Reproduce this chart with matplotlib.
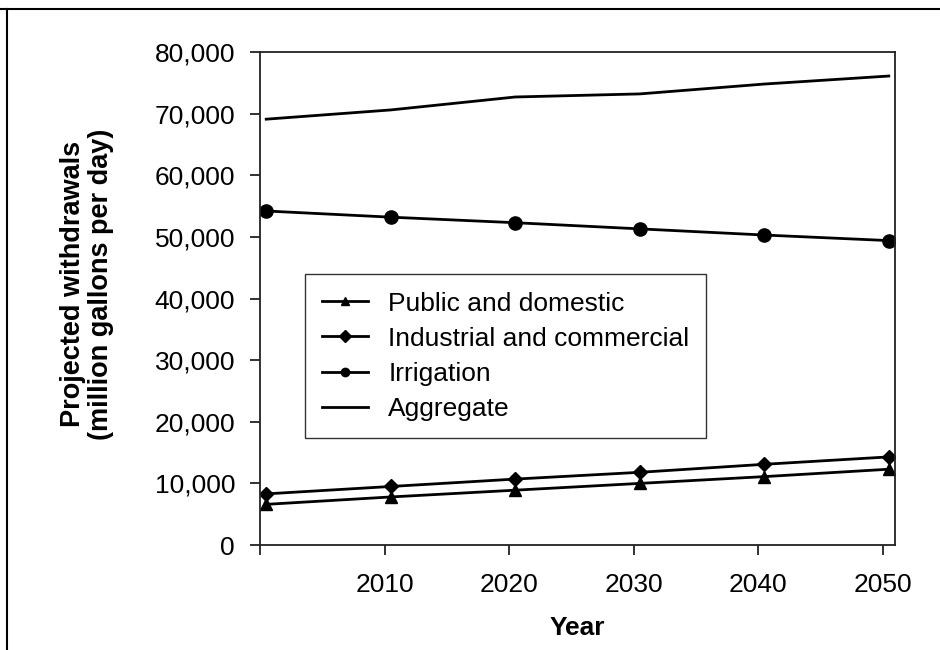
import numpy as np
import matplotlib
matplotlib.use("Agg")
import matplotlib.pyplot as plt
from matplotlib.lines import Line2D
from matplotlib.ticker import FuncFormatter

plt.rcParams['font.family'] = ['Liberation Sans', 'DejaVu Sans']

# Projected withdrawals, million gallons per day
years = [2000, 2010, 2020, 2030, 2040, 2050]
public_domestic = [6600, 7800, 8900, 10000, 11100, 12300]
industrial_commercial = [8300, 9500, 10700, 11800, 13100, 14300]
irrigation = [54200, 53200, 52300, 51300, 50300, 49400]
aggregate = [69100, 70600, 72700, 73200, 74800, 76100]

tick_years = [2000, 2010, 2020, 2030, 2040, 2050]
tick_labels = ['', '2010', '2020', '2030', '2040', '2050']

fig = plt.figure(figsize=(9.4, 6.5), dpi=100)
ax = fig.add_axes([0.2766, 0.1615, 0.6755, 0.7585])

lw = 2.0
ax.plot(years, public_domestic, color='black', lw=lw, marker='^', ms=9,
        label='Public and domestic')
ax.plot(years, industrial_commercial, color='black', lw=lw, marker='D', ms=7,
        label='Industrial and commercial')
ax.plot(years, irrigation, color='black', lw=lw, marker='o', ms=9.5,
        label='Irrigation')
ax.plot(years, aggregate, color='black', lw=lw, label='Aggregate')

# category-style axis: ticks sit on the left edge of each year
ax.set_xlim(1999.5, 2050.5)
ax.set_xticks([y - 0.5 for y in tick_years])
ax.set_xticklabels(tick_labels)
ax.set_ylim(0, 80000)
ax.set_yticks(np.arange(0, 80001, 10000))
ax.yaxis.set_major_formatter(FuncFormatter(lambda v, p: f'{int(v):,}'))

for s in ax.spines.values():
    s.set_linewidth(1.3)
    s.set_color('#222222')
ax.tick_params(axis='both', direction='out', length=7, width=1.3,
               labelsize=19, colors='#222222', labelcolor='black')
ax.tick_params(axis='y', pad=11)
ax.tick_params(axis='x', pad=13)

ax.set_xlabel('Year', fontsize=19, fontweight='bold', labelpad=14)
fig.text(87 / 940, 1 - 284 / 650,
         'Projected withdrawals\n(million gallons per day)',
         rotation=90, ha='center', va='center', multialignment='center',
         fontsize=19.5, fontweight='bold', linespacing=1.12)

leg = ax.legend(loc='lower left', bbox_to_anchor=(0.071, 0.217),
                fontsize=19, frameon=True, fancybox=False, edgecolor='black',
                handlelength=1.75, handletextpad=0.75, labelspacing=0.42,
                borderpad=0.65, borderaxespad=0)
leg.get_frame().set_linewidth(1.0)
for h in leg.legend_handles:
    h.set_markersize(6)

# outer frame lines along top and left of the figure
fig.add_artist(Line2D([0, 1], [1 - 9 / 650, 1 - 9 / 650], color='black', lw=1.5))
fig.add_artist(Line2D([7 / 940, 7 / 940], [0, 1 - 9 / 650], color='black', lw=1.5))

fig.savefig('out.png', dpi=100)
